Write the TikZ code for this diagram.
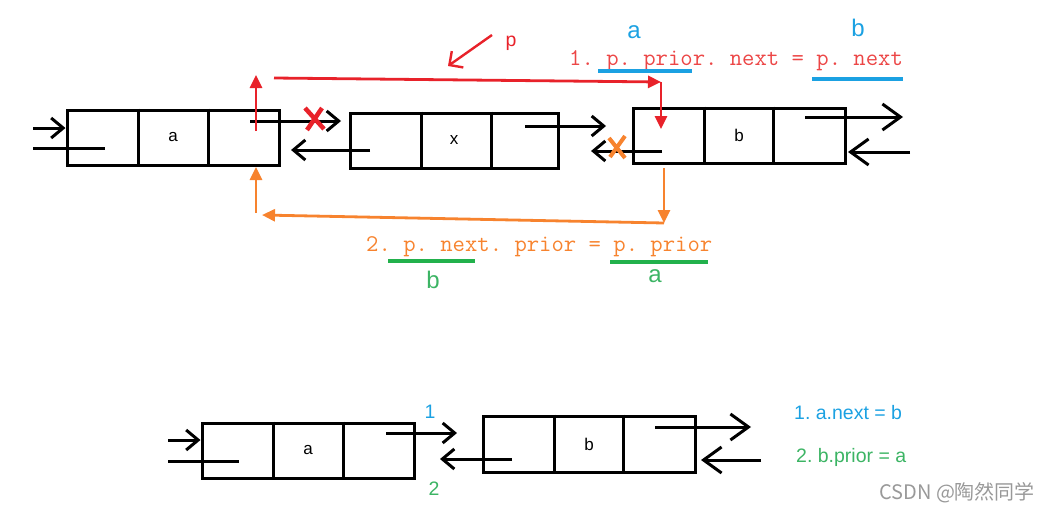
\documentclass[tikz,border=0pt]{standalone}
\usepackage{fontspec}
\setmainfont{Liberation Sans}
\newfontfamily\cjkf{Noto Sans CJK SC}
\usetikzlibrary{arrows.meta}
\definecolor{lred}{RGB}{232,34,42}
\definecolor{tred}{RGB}{236,70,70}
\definecolor{lblue}{RGB}{27,161,226}
\definecolor{lorange}{RGB}{247,131,46}
\definecolor{lgreen}{RGB}{34,177,76}
\definecolor{tgreen}{RGB}{60,180,100}
\frenchspacing
\tikzset{
  listbox/.style={draw=black,line width=3pt,minimum height=55pt,inner sep=0pt,font=\fontsize{17}{17}\selectfont},
  divider/.style={line width=3pt},
  blk/.style={line width=3pt,-{Straight Barb[length=12pt,width=20pt,line width=3pt]}},
  blkbig/.style={line width=3pt,-{Straight Barb[length=18pt,width=26pt,line width=3pt]}},
  plain/.style={line width=3pt},
  redarr/.style={draw=lred,line width=2.8pt,-{Triangle[length=13pt,width=12pt]}},
  orarr/.style={draw=lorange,line width=2.8pt,-{Triangle[length=13pt,width=12pt]}},
  code/.style={font=\ttfamily\frenchspacing\fontsize{24}{24}\selectfont,inner sep=0pt},
  small/.style={font=\fontsize{19.5}{19.5}\selectfont,inner sep=0pt},
}
\begin{document}
\begin{tikzpicture}[x=1pt,y=-1pt]
\useasboundingbox (0,0) rectangle (1062,525);
% ---------- top row ----------
\node[listbox,minimum width=212pt] (A) at (173,137.5) {a};
\node[listbox,minimum width=208pt] (X) at (454,140.5) {x};
\node[listbox,minimum width=212pt] (B) at (739,135.5) {b};
\foreach \n/\a/\b in {A/73/143,X/73/143,B/73/142}{
  \draw[divider] ([xshift=\a pt]\n.north west) -- ([xshift=\a pt]\n.south west);
  \draw[divider] ([xshift=\b pt]\n.north west) -- ([xshift=\b pt]\n.south west);
}
% black connectors
\coordinate (inA1) at (33,128); \coordinate (inA2) at (33,148); \coordinate (inA2e) at (105,148);
\draw[blk] (inA1) -- (A.west |- inA1);
\draw[plain] (inA2) -- (inA2e);
\coordinate (Anext) at (250,121); \coordinate (Anexte) at (341,121);
\draw[blk] (Anext) -- (Anexte);
\coordinate (Xprev) at (370,150); \coordinate (Xpreve) at (291,150);
\draw[blk] (Xprev) -- (Xpreve);
\coordinate (Xnext) at (525,126); \coordinate (Xnexte) at (606,126);
\draw[blk] (Xnext) -- (Xnexte);
\coordinate (Bprev) at (662,151); \coordinate (Bpreve) at (591,151);
\draw[blk] (Bprev) -- (Bpreve);
\coordinate (Bnext) at (805,117); \coordinate (Bnexte) at (903,117);
\draw[blkbig] (Bnext) -- (Bnexte);
\coordinate (inB) at (910,152); \coordinate (inBe) at (848,152);
\draw[blkbig] (inB) -- (inBe);
% crosses
\draw[lred,line width=4.5pt] (305,108) -- (324,129) (322,108) -- (307,130);
\draw[lorange,line width=4pt] (609,138) -- (625,158) (625,136) -- (610,157);
% red arrows
\coordinate (r0) at (256,131); \coordinate (r1) at (256,75);
\draw[redarr] (r0) -- (r1);
\coordinate (r2) at (274,78); \coordinate (r3) at (661,82); \coordinate (r4) at (661,129);
\draw[redarr] (r2) -- (r3);
\draw[redarr] (r3) -- (r4);
\coordinate (p0) at (492,35); \coordinate (p1) at (448,66);
\draw[lred,line width=2.4pt,-{Straight Barb[length=10pt,width=20pt,line width=2.4pt]}] (p0) -- (p1);
\node[small,text=lred] (plab) at (511,43) {p};
% orange arrows
\coordinate (o0) at (664,168); \coordinate (o1) at (664,223); \coordinate (o2) at (262,215);
\coordinate (o3) at (256,213); \coordinate (o4) at (256,167);
\draw[orarr] (o0) -- (o1);
\draw[orarr] (o1) -- (o2);
\draw[orarr] (o3) -- (o4);
% code texts
\node[code,text=tred,anchor=base west] (c1) at (569,65) {1. p. prior. next = p. next};
\draw[lblue,line width=4pt] (598,71) -- (692,71);
\draw[lblue,line width=4pt] (812,79) -- (903,79);
\node[font=\fontsize{24}{24}\selectfont,text=lblue,inner sep=0pt] (la) at (634,32) {a};
\node[font=\fontsize{24}{24}\selectfont,text=lblue,inner sep=0pt] (lb) at (858,28) {b};
\node[code,text=lorange,anchor=base west] (c2) at (366,251) {2. p. next. prior = p. prior};
\draw[lgreen,line width=4pt] (388,261) -- (475,261);
\draw[lgreen,line width=4pt] (610,262) -- (708,262);
\node[font=\fontsize{24}{24}\selectfont,text=tgreen,inner sep=0pt] (gb) at (433,280) {b};
\node[font=\fontsize{24}{24}\selectfont,text=tgreen,inner sep=0pt] (ga) at (655,276) {a};
% ---------- bottom row ----------
\node[listbox,minimum width=212pt,minimum height=55pt] (A2) at (308,450.5) {a};
\node[listbox,minimum width=212pt,minimum height=56pt] (B2) at (589,444) {b};
\foreach \n/\a in {A2/73,A2/143,B2/73,B2/142}{
  \draw[divider] ([xshift=\a pt]\n.north west) -- ([xshift=\a pt]\n.south west);
}
\coordinate (bin1) at (168,440); \coordinate (bin2) at (168,461); \coordinate (bin2e) at (239,461);
\draw[blk] (bin1) -- (A2.west |- bin1);
\draw[plain] (bin2) -- (bin2e);
\coordinate (A2next) at (386,433); \coordinate (A2nexte) at (457,433);
\draw[blk] (A2next) -- (A2nexte);
\coordinate (B2prev) at (512,459); \coordinate (B2preve) at (440,459);
\draw[blk] (B2prev) -- (B2preve);
\coordinate (B2next) at (655,427); \coordinate (B2nexte) at (751,427);
\draw[blkbig] (B2next) -- (B2nexte);
\coordinate (in2) at (761,460); \coordinate (in2e) at (701,460);
\draw[blkbig] (in2) -- (in2e);
\node[small,text=lblue] (n1) at (430,412) {1};
\node[small,text=tgreen] (n2) at (434,489) {2};
\node[small,text=lblue,anchor=west] (t1) at (794,413) {1. a.next = b};
\node[small,text=tgreen,anchor=west] (t2) at (796,457) {2. b.prior = a};
\node[font=\cjkf\fontsize{20}{20}\selectfont,text=black!40,anchor=west,inner sep=0pt] (wm) at (879,493) {CSDN @陶然同学};
\end{tikzpicture}
\end{document}
